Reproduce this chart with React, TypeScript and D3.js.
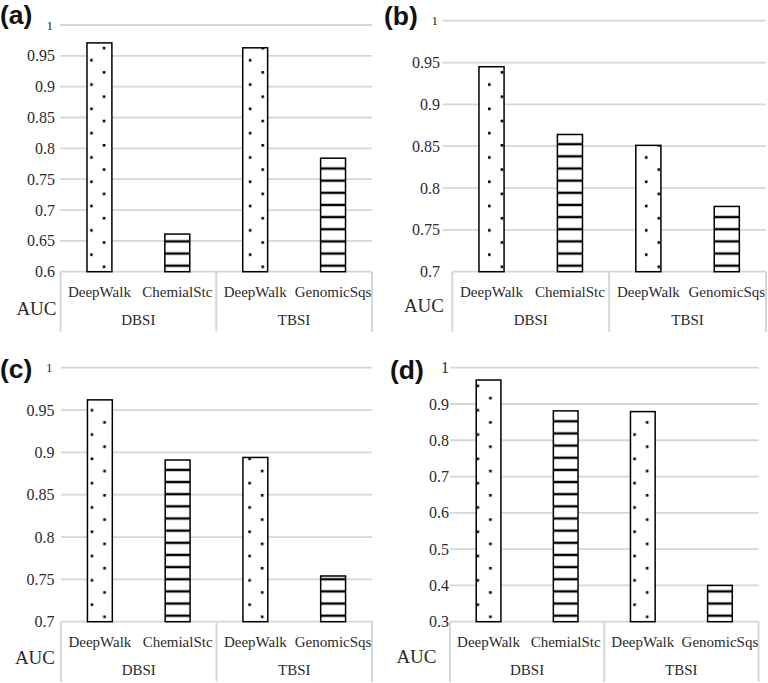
import React from "react";
import * as d3 from "d3";

// ---------- data ----------
const categories = ["DeepWalk", "ChemialStc", "DeepWalk", "GenomicSqs"];
const groups = ["DBSI", "TBSI"];
const patterns = ["dots", "stripes", "dots", "stripes"];
const panelLabels = ["(a)", "(b)", "(c)", "(d)"];
const valuesA = [0.971, 0.661, 0.963, 0.784];
const valuesB = [0.945, 0.864, 0.851, 0.778];
const valuesC = [0.962, 0.891, 0.894, 0.754];
const valuesD = [0.966, 0.881, 0.879, 0.4];
const domainA = [0.6, 1];
const domainB = [0.7, 1];
const domainC = [0.7, 1];
const domainD = [0.3, 1];
const ticksA = [0.6, 0.65, 0.7, 0.75, 0.8, 0.85, 0.9, 0.95, 1];
const ticksB = [0.7, 0.75, 0.8, 0.85, 0.9, 0.95, 1];
const ticksC = [0.7, 0.75, 0.8, 0.85, 0.9, 0.95, 1];
const ticksD = [0.3, 0.4, 0.5, 0.6, 0.7, 0.8, 0.9, 1];
const yTitle = "AUC";

// ---------- layout ----------
const layouts = [
  { lx: 0, ly: 24, yTop: 25, yBot: 271.7, plotL: 60.5, plotR: 372, gridL: 60, labelR: 55, aucR: 56.5, aucY: 315, topSize: 13, dotDx: [4.4, 7.3] },
  { lx: 384, ly: 24.5, yTop: 20.7, yBot: 271.7, plotL: 452.3, plotR: 766, gridL: 442.7, labelR: 440, aucR: 444, aucY: 311.7, topSize: 13, dotDx: [10.3, 10.3] },
  { lx: 0, ly: 377.5, yTop: 367.7, yBot: 621.7, plotL: 61, plotR: 372, gridL: 61, labelR: 54.5, aucR: 55, aucY: 664, topSize: 13, dotDx: [4.4, 6.6] },
  { lx: 390, ly: 378.5, yTop: 367.7, yBot: 621.7, plotL: 450, plotR: 758.5, gridL: 450, labelR: 449, aucR: 436.5, aucY: 662.7, topSize: 16, dotDx: [1.5, 4] },
];

const panels = [
  { values: valuesA, domain: domainA, ticks: ticksA },
  { values: valuesB, domain: domainB, ticks: ticksB },
  { values: valuesC, domain: domainC, ticks: ticksC },
  { values: valuesD, domain: domainD, ticks: ticksD },
];

const GRID = "#d6d6d6";
const TEXT = "#2b2b2b";
const SERIF = "'Liberation Serif', 'DejaVu Serif', 'Times New Roman', Times, serif";
const SANS = "'Liberation Sans', Arial, sans-serif";

const fmt = (v: number) => String(+v.toFixed(2));

function Panel({ idx }: { idx: number }) {
  const p = panels[idx];
  const L = layouts[idx];
  const y = d3.scaleLinear().domain(p.domain).range([L.yBot, L.yTop]);
  const x = d3
    .scaleBand<number>()
    .domain(categories.map((_, i) => i))
    .range([L.plotL, L.plotR])
    .paddingInner(0.68)
    .paddingOuter(0.34);
  const bw = x.bandwidth();
  const mid = (L.plotL + L.plotR) / 2;
  const stripeH = 12.15;
  const dotH = 24.3;
  let dotCount = 0;
  const serif = { fontFamily: SERIF };

  return (
    <g>
      <defs>
        <pattern
          id={`stripes-${idx}`}
          patternUnits="userSpaceOnUse"
          x={0}
          y={L.yBot - 6}
          width={10}
          height={stripeH}
        >
          <rect x={0} y={0} width={10} height={stripeH} fill="#fff" />
          <rect x={0} y={-1.2} width={10} height={2.4} fill="#000" />
          <rect x={0} y={stripeH - 1.2} width={10} height={2.4} fill="#000" />
        </pattern>
        {categories.map((_, i) => {
          if (patterns[i] !== "dots") return null;
          const k = dotCount++;
          const bx = (x(i) as number) + L.dotDx[k];
          return (
            <pattern
              key={i}
              id={`dots-${idx}-${i}`}
              patternUnits="userSpaceOnUse"
              x={bx - 1.2}
              y={L.yBot - 5 - 1.2}
              width={25}
              height={dotH}
            >
              <rect x={0} y={0} width={25} height={dotH} fill="#fff" />
              <rect x={12.6} y={0} width={2.6} height={2.6} fill="#000" />
              <rect x={0} y={dotH / 2} width={2.6} height={2.6} fill="#000" />
            </pattern>
          );
        })}
      </defs>

      {/* gridlines */}
      {p.ticks.map((t) => (
        <line
          key={t}
          x1={t === p.domain[0] ? L.plotL : L.gridL}
          x2={L.plotR}
          y1={y(t)}
          y2={y(t)}
          stroke={GRID}
          strokeWidth={1.8}
        />
      ))}
      {/* tick labels */}
      {p.ticks.map((t) => (
        <text
          key={"l" + t}
          x={t === 1 && idx < 3 ? L.labelR - 2 : L.labelR}
          y={y(t)}
          dy="0.35em"
          textAnchor="end"
          style={serif}
          fontSize={t === 1 ? L.topSize : 16}
          fill={TEXT}
        >
          {fmt(t)}
        </text>
      ))}

      {/* category box */}
      {[L.plotL, mid, L.plotR].map((vx, i) => (
        <line key={"v" + i} x1={vx} x2={vx} y1={L.yBot} y2={L.yBot + 60} stroke={GRID} strokeWidth={2} />
      ))}

      {/* bars */}
      {p.values.map((v, i) => (
        <rect
          key={"b" + i}
          x={x(i)}
          y={y(v)}
          width={bw}
          height={L.yBot - y(v)}
          fill={patterns[i] === "dots" ? `url(#dots-${idx}-${i})` : `url(#stripes-${idx})`}
          stroke="#000"
          strokeWidth={1.5}
        />
      ))}

      {/* category labels */}
      {categories.map((c, i) => (
        <text
          key={"c" + i}
          x={(x(i) as number) + bw / 2}
          y={L.yBot + 25}
          textAnchor="middle"
          style={serif}
          fontSize={15}
          fill={TEXT}
        >
          {c}
        </text>
      ))}
      {groups.map((g, gi) => (
        <text
          key={"g" + gi}
          x={gi === 0 ? (L.plotL + mid) / 2 : (mid + L.plotR) / 2}
          y={L.yBot + 53.5}
          textAnchor="middle"
          style={serif}
          fontSize={15}
          fill={TEXT}
        >
          {g}
        </text>
      ))}
      <text x={L.aucR} y={L.aucY} textAnchor="end" style={serif} fontSize={19} fill={TEXT}>
        {yTitle}
      </text>

      {/* panel label */}
      <text x={L.lx} y={L.ly} style={{ fontFamily: SANS }} fontWeight="bold" fontSize={26.5} fill="#111">
        {panelLabels[idx]}
      </text>
    </g>
  );
}

export default function App() {
  return (
    <svg
      width={768}
      height={683}
      viewBox="0 0 768 683"
      style={{ position: "absolute", left: 0, top: 0, background: "#fff" }}
    >
      <rect width={768} height={683} fill="#fff" />
      {panels.map((_, i) => (
        <Panel key={i} idx={i} />
      ))}
    </svg>
  );
}
